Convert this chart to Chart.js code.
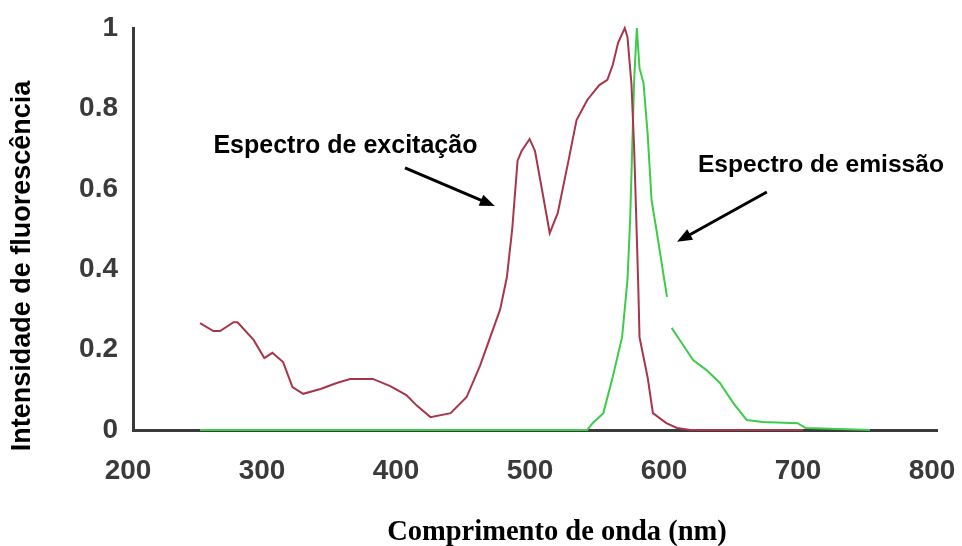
<!DOCTYPE html>
<html>
<head>
<meta charset="utf-8">
<title>Espectros de fluorescência</title>
<script src="https://cdn.jsdelivr.net/npm/chart.js@4.4.0/dist/chart.umd.min.js"></script>
<style>
  html, body { margin: 0; padding: 0; background: #fff; }
  #wrap { width: 962px; height: 546px; }
</style>
</head>
<body>
<div id="wrap"><canvas id="spectra" width="962" height="546"></canvas></div>
<script>
// Excitation spectrum (nm / relative intensity)
const excitationWl = [250, 260, 265, 275, 278, 290, 298, 304, 312, 319, 327, 340, 352, 362, 379, 392, 404, 412, 422, 437,
  449, 459, 474, 479, 483, 487, 490, 496, 500, 505, 511, 517, 525, 531, 539, 548, 554, 558, 562, 567,
  569, 572, 574, 575, 577, 578, 584, 588, 598, 606, 616, 700];
const excitationVal = [0.266, 0.246, 0.246, 0.268, 0.268, 0.224, 0.179, 0.192, 0.169, 0.107, 0.09, 0.102, 0.117, 0.127, 0.127, 0.109, 0.087, 0.06, 0.032, 0.042,
  0.082, 0.16, 0.30, 0.38, 0.50, 0.67, 0.694, 0.724, 0.694, 0.602, 0.49, 0.54, 0.67, 0.771, 0.821, 0.858, 0.871, 0.908, 0.963, 1.0,
  0.978, 0.86, 0.70, 0.59, 0.366, 0.231, 0.132, 0.042, 0.017, 0.005, 0, 0];

// Emission spectrum (null = small break in the trace)
const emissionWl = [250, 539, 543, 551, 558, 565, 569, 571, 572.5, 574, 576, 578, 581, 584, 587, 591, 595, 598.5, 600, 602,
  608, 618, 628, 638, 648, 658, 670, 696, 702, 750];
const emissionVal = [0, 0, 0.017, 0.042, 0.132, 0.231, 0.373, 0.522, 0.697, 0.871, 1.0, 0.90, 0.863, 0.739, 0.572, 0.49, 0.405, 0.331, null, 0.254,
  0.224, 0.174, 0.149, 0.117, 0.067, 0.025, 0.02, 0.017, 0.005, 0];

const xTicks = [200, 300, 400, 500, 600, 700, 800];
const yTicks = [0, 0.2, 0.4, 0.6, 0.8, 1];

const yTitle = 'Intensidade de fluorescência';
const xTitle = 'Comprimento de onda (nm)';

// callouts: text anchor and arrow, in data units
const callouts = [
  { text: 'Espectro de excitação', size: 25, at: [260, 0.706], from: [403, 0.652], to: [470, 0.557] },
  { text: 'Espectro de emissão', size: 24.6, at: [621.6, 0.659], from: [673, 0.592], to: [606, 0.468] }
];

const SANS = "'Liberation Sans', Arial, sans-serif";
const SERIF = "'Liberation Serif', 'Times New Roman', serif";

function toPoints(xs, ys) {
  return xs.map((x, i) => ({ x: x, y: ys[i] }));
}

function drawArrow(ctx, x1, y1, x2, y2) {
  const ang = Math.atan2(y2 - y1, x2 - x1);
  const len = 15, half = 6;
  ctx.beginPath();
  ctx.moveTo(x1, y1);
  ctx.lineTo(x2 - Math.cos(ang) * len * 0.8, y2 - Math.sin(ang) * len * 0.8);
  ctx.stroke();
  ctx.beginPath();
  ctx.moveTo(x2, y2);
  ctx.lineTo(x2 - Math.cos(ang) * len - Math.sin(ang) * half, y2 - Math.sin(ang) * len + Math.cos(ang) * half);
  ctx.lineTo(x2 - Math.cos(ang) * len + Math.sin(ang) * half, y2 - Math.sin(ang) * len - Math.cos(ang) * half);
  ctx.closePath();
  ctx.fill();
}

const annotations = {
  id: 'annotations',
  afterDatasetsDraw(chart) {
    const { ctx, chartArea, scales } = chart;
    const x = scales.x, y = scales.y;
    ctx.save();
    ctx.fillStyle = '#000';
    ctx.strokeStyle = '#000';
    ctx.lineWidth = 3;

    callouts.forEach(c => {
      ctx.font = 'bold ' + c.size + 'px ' + SANS;
      ctx.textAlign = 'left';
      ctx.textBaseline = 'middle';
      ctx.fillText(c.text, x.getPixelForValue(c.at[0]), y.getPixelForValue(c.at[1]));
      drawArrow(ctx,
        x.getPixelForValue(c.from[0]), y.getPixelForValue(c.from[1]),
        x.getPixelForValue(c.to[0]), y.getPixelForValue(c.to[1]));
    });

    // axis titles
    ctx.font = 'bold 28.5px ' + SERIF;
    ctx.textAlign = 'center';
    ctx.textBaseline = 'middle';
    ctx.fillText(xTitle, (chartArea.left + chartArea.right) / 2 + 22, chartArea.bottom + 103);

    ctx.translate(chartArea.left - 110, (chartArea.top + chartArea.bottom) / 2 + 37);
    ctx.rotate(-Math.PI / 2);
    ctx.font = 'bold 27px ' + SANS;
    ctx.fillText(yTitle, 0, 0);
    ctx.restore();
  }
};

const ctx = document.getElementById('spectra').getContext('2d');
new Chart(ctx, {
  type: 'line',
  data: {
    datasets: [
      {
        label: 'Espectro de excitação',
        data: toPoints(excitationWl, excitationVal),
        borderColor: '#a8364a',
        borderWidth: 2,
        pointRadius: 0,
        tension: 0,
        clip: 6
      },
      {
        label: 'Espectro de emissão',
        data: toPoints(emissionWl, emissionVal),
        borderColor: '#3ccc4a',
        borderWidth: 2,
        pointRadius: 0,
        tension: 0,
        spanGaps: false,
        clip: 6
      }
    ]
  },
  options: {
    responsive: false,
    animation: false,
    layout: { padding: { top: 28, right: 25, left: 0, bottom: 0 } },
    plugins: {
      legend: { display: false },
      tooltip: { enabled: false }
    },
    scales: {
      x: {
        type: 'linear',
        min: 200,
        max: 800,
        afterFit: s => { s.height = 116; s.paddingLeft = 0; s.paddingRight = 0; },
        afterBuildTicks: s => { s.ticks = xTicks.map(v => ({ value: v })); },
        grid: { display: false, drawTicks: false },
        border: { display: true, color: '#3a3a3a', width: 3 },
        ticks: {
          padding: 24,
          labelOffset: -5,
          color: '#3a3a3a',
          font: { family: SANS, size: 28, weight: 'bold' }
        }
      },
      y: {
        min: 0,
        max: 1,
        afterFit: s => { s.width = 133; s.paddingTop = 0; s.paddingBottom = 0; },
        afterBuildTicks: s => { s.ticks = yTicks.map(v => ({ value: v })); },
        grid: { display: false, drawTicks: false },
        border: { display: true, color: '#3a3a3a', width: 3 },
        ticks: {
          padding: 15,
          color: '#3a3a3a',
          font: { family: SANS, size: 28, weight: 'bold' },
          callback: v => String(v)
        }
      }
    }
  },
  plugins: [annotations]
});
</script>
</body>
</html>
